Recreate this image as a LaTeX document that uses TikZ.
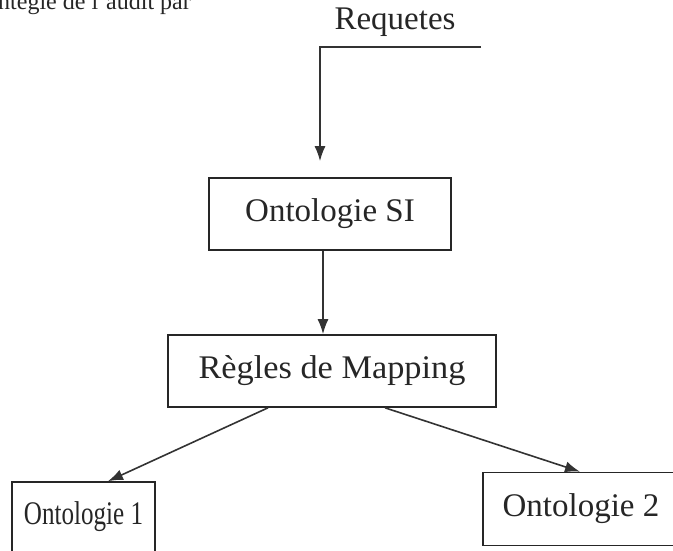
\documentclass[tikz,border=0pt]{standalone}
\usepackage{fontspec}
\setmainfont{Liberation Serif}
\usetikzlibrary{arrows.meta,positioning}

\begin{document}
\begin{tikzpicture}[
  x={(1pt,0)}, y={(0,-1pt)},
  box/.style={draw=black!85, line width=1.6pt, inner sep=0pt,
    font=\fontsize{33}{38}\selectfont, text=black!85},
  link/.style={draw=black!80, line width=1.6pt,
    -{Latex[length=15pt,width=11pt]}},
]
\useasboundingbox (0,0) rectangle (673,550);
\clip (0,0) rectangle (673,550);

% tail of the preceding line of body text
\node[anchor=base west, inner sep=0pt, text=black!85,
      font=\fontsize{24}{28}\selectfont] (prev) at (-2,9) {ntégie de l'audit par};

% input label and its feed point
\node[inner sep=0pt, text=black!85, font=\fontsize{33}{38}\selectfont] (req) at (395,22) {Requetes};
\coordinate (feed) at (481,47);

% boxes
\node[box, minimum width=242pt, minimum height=72pt] (si) at (330,214) {Ontologie SI};
\node[box, minimum width=328pt, minimum height=72pt] (map) at (332,371) {\scalebox{1.04}[1]{Règles de Mapping}};
\node[box, minimum width=143pt, minimum height=70pt] (o1) at (83.5,517) {\scalebox{0.76}[1]{Ontologie 1}};
\node[box, minimum width=196pt, minimum height=73pt] (o2) at (581,509) {Ontologie 2};

% connectors
\draw[link, shorten >=16pt] (feed) -| ([xshift=-10pt]si.north);
\draw[link] ([xshift=-7pt]si.south) -- ([xshift=-9pt]map.north);
\draw[link] ([xshift=-64pt]map.south) -- ([xshift=24.5pt]o1.north);
\draw[link] ([xshift=53pt]map.south) -- ([xshift=-1pt]o2.north);
\end{tikzpicture}
\end{document}
